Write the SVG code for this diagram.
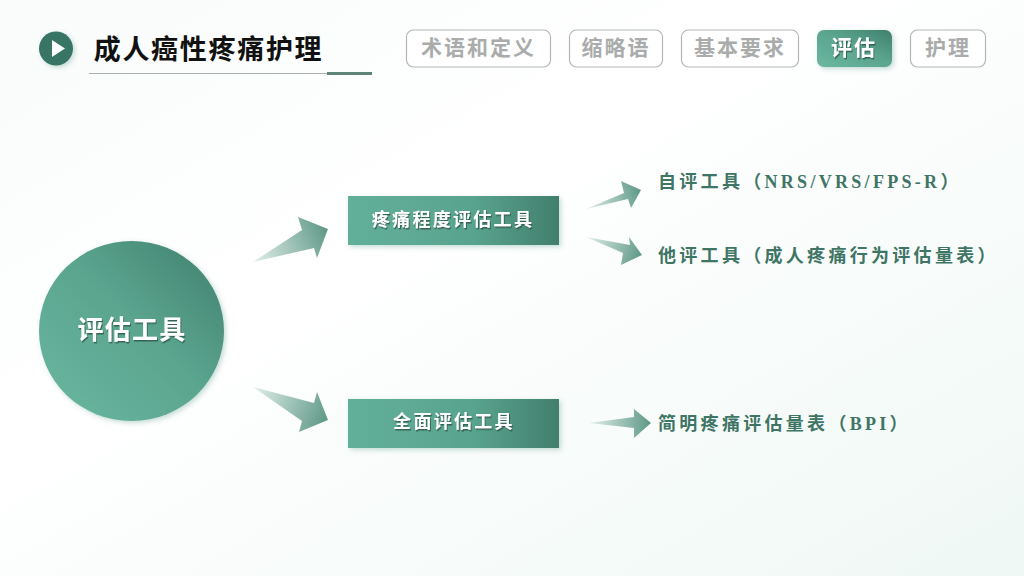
<svg xmlns="http://www.w3.org/2000/svg" width="1024" height="576" viewBox="0 0 1024 576">
<style>
text{font-family:"Noto Sans CJK SC","Liberation Serif",sans-serif;font-weight:700;text-anchor:middle}
.tab{fill:#fff;stroke:#b4b6b6;stroke-width:1.2}
.tt{font-size:21px;fill:#a9acab;letter-spacing:2px}
.wt{fill:#fff;filter:url(#ts)}
.lab{font-family:"Liberation Serif","Noto Sans CJK SC",serif;font-size:18px;fill:#3f7565;text-anchor:start;letter-spacing:3.300px}
</style>
<defs>
<linearGradient id="bg" x1="0" y1="0" x2="1" y2="1"><stop offset="0" stop-color="#f9fcfb"/><stop offset=".4" stop-color="#fff"/><stop offset="1" stop-color="#eff8f5"/></linearGradient>
<linearGradient id="g" x1="0" y1="1" x2="1" y2="0"><stop offset="0" stop-color="#6bb7a0"/><stop offset=".55" stop-color="#5aa48e"/><stop offset="1" stop-color="#3f7f6c"/></linearGradient>
<linearGradient id="gb" x1="0" y1="0" x2="1" y2="0"><stop offset="0" stop-color="#63b09a"/><stop offset=".6" stop-color="#58a38d"/><stop offset="1" stop-color="#427f6d"/></linearGradient>
<linearGradient id="a1" gradientUnits="userSpaceOnUse" x1="253" y1="262" x2="328" y2="229"><stop offset="0" stop-color="#e2efeb"/><stop offset="1" stop-color="#5e9886"/></linearGradient>
<linearGradient id="a2" gradientUnits="userSpaceOnUse" x1="586" y1="209" x2="641" y2="190"><stop offset="0" stop-color="#e2efeb"/><stop offset="1" stop-color="#5e9886"/></linearGradient>
<linearGradient id="a3" gradientUnits="userSpaceOnUse" x1="586" y1="237" x2="642" y2="255"><stop offset="0" stop-color="#e2efeb"/><stop offset="1" stop-color="#5e9886"/></linearGradient>
<linearGradient id="a4" gradientUnits="userSpaceOnUse" x1="253" y1="387" x2="328" y2="420"><stop offset="0" stop-color="#e2efeb"/><stop offset="1" stop-color="#5e9886"/></linearGradient>
<linearGradient id="a5" gradientUnits="userSpaceOnUse" x1="589" y1="423" x2="651" y2="423"><stop offset="0" stop-color="#e2efeb"/><stop offset="1" stop-color="#5e9886"/></linearGradient>
<filter id="ts" x="-10%" y="-20%" width="120%" height="150%"><feDropShadow dx="1" dy="1.500" stdDeviation=".6" flood-color="#23483d" flood-opacity=".7"/></filter>
<filter id="sh" x="-15%" y="-15%" width="130%" height="140%"><feDropShadow dx="2" dy="2" stdDeviation="2.500" flood-color="#5a9a88" flood-opacity=".35"/></filter>
</defs>
<rect id="background" width="1024" height="576" fill="url(#bg)"/>
<g id="header">
<circle cx="56" cy="48.500" r="17" fill="#387565" filter="url(#sh)"/>
<polygon points="52,40 52,57 65,48.500" fill="#fff"/>
<text x="208.500" y="59" font-size="27" fill="#111" letter-spacing="1.700">成人癌性疼痛护理</text>
<rect x="89" y="73" width="238" height="1" fill="#a9b1ae"/>
<rect x="327" y="72" width="45" height="3" fill="#5f8478"/>
</g>
<g id="tab-terms"><rect class="tab" x="406.500" y="30" width="144" height="37" rx="7"/><text class="tt" x="478.500" y="55">术语和定义</text></g>
<g id="tab-abbr"><rect class="tab" x="569.500" y="30" width="93" height="37" rx="7"/><text class="tt" x="616" y="55">缩略语</text></g>
<g id="tab-basic"><rect class="tab" x="681.500" y="30" width="117" height="37" rx="7"/><text class="tt" x="740" y="55">基本要求</text></g>
<g id="tab-assess"><rect x="817" y="30" width="75" height="37" rx="7" fill="url(#g)" filter="url(#sh)"/><text class="wt" x="854" y="55" font-size="21" letter-spacing="2">评估</text></g>
<g id="tab-care"><rect class="tab" x="910.500" y="30" width="75" height="37" rx="7"/><text class="tt" x="948" y="55">护理</text></g>
<g id="connectors">
<polygon points="253,262 302,230 298,217 328,229 317,258 314,248" fill="url(#a1)"/>
<polygon points="586,209 624,193 621,181 641,190 631,208 628,199" fill="url(#a2)"/>
<polygon points="586,237 630,245 629,237 642,255 621,265 623,253" fill="url(#a3)"/>
<polygon points="253,387 314,403 317,392 328,420 299,432 302,421" fill="url(#a4)"/>
<polygon points="589,423 634,417 634,409 651,423 634,438 634,428" fill="url(#a5)"/>
</g>
<g id="node-root"><ellipse cx="131.500" cy="331" rx="92.500" ry="90" fill="url(#g)" filter="url(#sh)"/><text class="wt" x="132" y="339" font-size="26" letter-spacing="1.300">评估工具</text></g>
<g id="node-pain"><rect x="348" y="196" width="211" height="49" fill="url(#gb)" filter="url(#sh)"/><text class="wt" x="453" y="226" font-size="18" letter-spacing="2.300">疼痛程度评估工具</text></g>
<g id="node-full"><rect x="348" y="399" width="211" height="49" fill="url(#gb)" filter="url(#sh)"/><text class="wt" x="454" y="428" font-size="18" letter-spacing="2.300">全面评估工具</text></g>
<g id="label-self"><text class="lab" x="658" y="188">自评工具（NRS/VRS/FPS-R）</text></g>
<g id="label-other"><text class="lab" x="658" y="262">他评工具（成人疼痛行为评估量表）</text></g>
<g id="label-bpi"><text class="lab" x="658" y="430">简明疼痛评估量表（BPI）</text></g>
</svg>
